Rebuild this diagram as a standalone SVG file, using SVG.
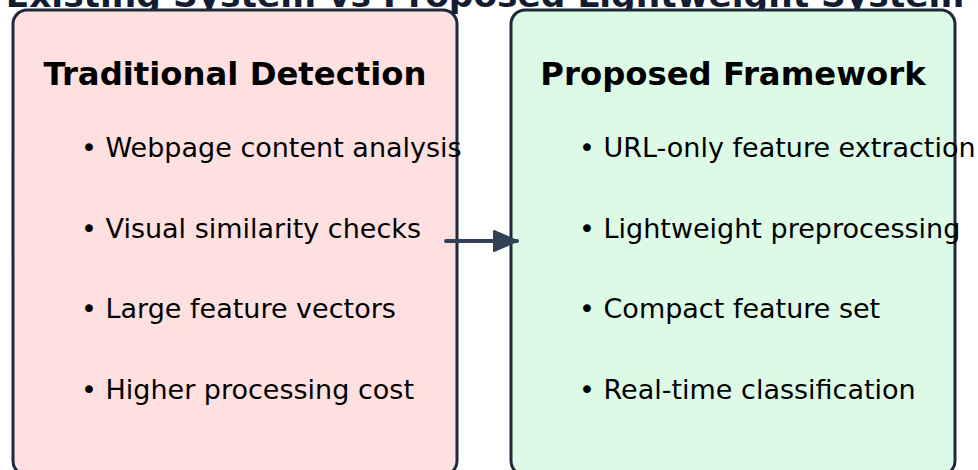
<svg xmlns="http://www.w3.org/2000/svg" width="978" height="470" viewBox="0 0 978 470">
  <defs>
    <style>
      .title { font-family: "DejaVu Sans", sans-serif; font-weight: bold; font-size: 34.4px; fill: #131c33; }
      .panel { stroke: #1e293b; stroke-width: 3; }
      .heading { font-family: "DejaVu Sans", sans-serif; font-weight: bold; font-size: 32.3px; fill: #000; text-anchor: middle; }
      .item { font-family: "DejaVu Sans", sans-serif; font-size: 27px; fill: #000; }
      .link { stroke: #334155; stroke-width: 4; stroke-linecap: round; fill: none; }
    </style>
    <marker id="head" viewBox="0 0 26 22" refX="24" refY="11" markerWidth="26" markerHeight="22" markerUnits="userSpaceOnUse" orient="auto">
      <path d="M1,1 L24,11 L1,21 Z" fill="#334155" stroke="#334155" stroke-width="2" stroke-linejoin="round"/>
    </marker>
  </defs>

  <rect width="978" height="470" fill="#ffffff"/>

  <!-- title sits behind the panels, so their tops hide its descenders -->
  <text class="title" x="485" y="6.5" text-anchor="middle">Existing System vs Proposed Lightweight System</text>

  <g id="traditional">
    <rect class="panel" x="13" y="10" width="444" height="465" rx="14" fill="#fee0e0"/>
    <text class="heading" x="235" y="85">Traditional Detection</text>
    <text class="item" x="81" y="157">• Webpage content analysis</text>
    <text class="item" x="81" y="238">• Visual similarity checks</text>
    <text class="item" x="81" y="318">• Large feature vectors</text>
    <text class="item" x="81" y="399">• Higher processing cost</text>
  </g>

  <g id="proposed">
    <rect class="panel" x="511" y="10" width="444" height="465" rx="14" fill="#dcfae6"/>
    <text class="heading" x="733" y="85">Proposed Framework</text>
    <text class="item" x="579" y="157">• URL-only feature extraction</text>
    <text class="item" x="579" y="238">• Lightweight preprocessing</text>
    <text class="item" x="579" y="318">• Compact feature set</text>
    <text class="item" x="579" y="399">• Real-time classification</text>
  </g>

  <g id="connectors">
    <line class="link" x1="446" y1="241" x2="517" y2="241" marker-end="url(#head)"/>
  </g>
</svg>
